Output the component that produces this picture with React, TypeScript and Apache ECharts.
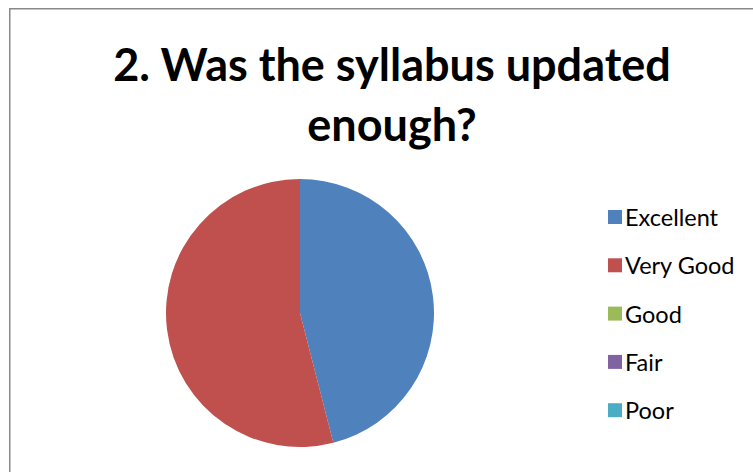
import React, { useEffect, useRef } from "react";
import * as echarts from "echarts";

const titleLines = ["2. Was the syllabus updated", "enough?"];
const categories = ["Excellent", "Very Good", "Good", "Fair", "Poor"];
const values = [46, 54, 0, 0, 0];
const colors = ["#4F81BD", "#C0504D", "#9BBB59", "#8064A2", "#4BACC6"];

export default function App() {
  const ref = useRef<HTMLDivElement>(null);
  useEffect(() => {
    document.body.style.margin = "0";
    const chart = echarts.init(ref.current!, null, { renderer: "svg" });
    chart.setOption({
      animation: false,
      backgroundColor: "#ffffff",
      color: colors,
      title: {
        text: titleLines.join("\n"),
        left: 387,
        top: 29,
        textAlign: "center",
        textStyle: {
          fontFamily: "Lato",
          fontWeight: "bold",
          fontSize: 45,
          lineHeight: 60,
          color: "#000000",
        },
      },
      legend: {
        orient: "vertical",
        left: 603,
        top: 200,
        itemWidth: 14,
        itemHeight: 14,
        itemGap: 24.3,
        icon: "rect",
        textStyle: { fontFamily: "Lato", fontSize: 23.5, lineHeight: 23, color: "#000000", padding: [0, 0, 0, -2] },
        data: categories,
      },
      graphic: [
        {
          type: "rect",
          shape: { x: 9.75, y: 8.75, width: 900, height: 600 },
          style: { fill: "none", stroke: "#898989", lineWidth: 1.5 },
          silent: true,
        },
      ],
      series: [
        {
          type: "pie",
          center: [300, 313],
          radius: 134,
          startAngle: 90,
          clockwise: true,
          label: { show: false },
          labelLine: { show: false },
          itemStyle: { borderWidth: 0 },
          data: categories.map((c, i) => ({ name: c, value: values[i] })),
        },
      ],
    });
    return () => chart.dispose();
  }, []);
  return <div ref={ref} style={{ width: 753, height: 472 }} />;
}
